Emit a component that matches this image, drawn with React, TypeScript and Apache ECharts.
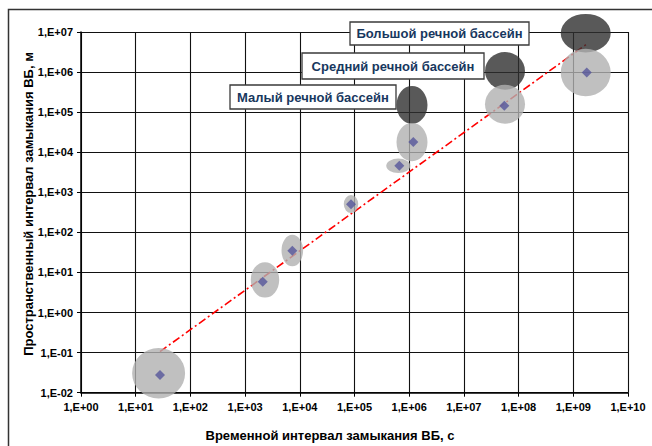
import React, { useEffect, useRef } from "react";
import * as echarts from "echarts";

// Diamond points: [time interval, s ; spatial interval, m]
const pointX = [27.8, 2100, 7290, 86300, 659000, 1.19e6, 5.48e7, 1.76e9];
const pointY = [0.0277, 5.9, 34.6, 507, 4590, 17900, 144000, 982000];

// Light (observed) ranges: [xLo, xHi, yLo, yHi]
const lightRanges: number[][] = [
  [8.6, 80, 0.0072, 0.13],
  [1270, 4200, 2.36, 18.1],
  [4630, 11500, 14.3, 86.9],
  [63700, 117000, 303, 851],
  [381000, 1.047e6, 3030, 6950],
  [586000, 2.16e6, 5940, 54000],
  [2.43e7, 1.31e8, 51400, 484000],
  [5.89e8, 4.83e9, 248000, 3.84e6],
];

// Dark (river basin) ranges: [xLo, xHi, yLo, yHi]
const darkRanges: number[][] = [
  [586000, 2.16e6, 50800, 452000],
  [2.43e7, 1.31e8, 363000, 3.15e6],
  [5.89e8, 4.83e9, 3.1e6, 2.83e7],
];

// Trend line endpoints
const trendX = [27.8, 1.76e9];
const trendY = [0.106, 5.0e6];

const basinLabels = ["Малый речной бассейн", "Средний речной бассейн", "Большой речной бассейн"];
const xTitle = "Временной интервал замыкания ВБ, с";
const yTitle = "Пространственный интервал замыкания ВБ, м";

const FONT = 'Arial, "Liberation Sans", sans-serif';

function fmt(v: number): string {
  const e = Math.round(Math.log10(v));
  const s = e < 0 ? "-" : "+";
  const a = Math.abs(e);
  return "1,E" + s + (a < 10 ? "0" + a : String(a));
}

function ellipseItem(fill: string, opacity: number) {
  return (params: any, api: any) => {
    const p1 = api.coord([api.value(0), api.value(2)]);
    const p2 = api.coord([api.value(1), api.value(3)]);
    const cx = (p1[0] + p2[0]) / 2;
    const cy = (p1[1] + p2[1]) / 2;
    const rx = Math.abs(p2[0] - p1[0]) / 2;
    const ry = Math.abs(p2[1] - p1[1]) / 2;
    const d = `M ${cx - rx} ${cy} A ${rx} ${ry} 0 1 0 ${cx + rx} ${cy} A ${rx} ${ry} 0 1 0 ${cx - rx} ${cy} Z`;
    return {
      type: "path",
      shape: { pathData: d },
      style: { fill, opacity },
    };
  };
}

function labelBox(text: string, x: number, y: number, w: number, h: number) {
  return [
    {
      type: "rect",
      z: 100,
      shape: { x, y, width: w, height: h },
      style: { fill: "#ffffff", stroke: "#3a3a3a", lineWidth: 1.3 },
    },
    {
      type: "text",
      z: 101,
      x: x + w / 2,
      y: y + h / 2,
      style: {
        text,
        fill: "#17375e",
        font: `bold 13px ${FONT}`,
        textAlign: "center",
        textVerticalAlign: "middle",
      },
    },
  ];
}

export default function App() {
  const ref = useRef<HTMLDivElement>(null);
  useEffect(() => {
    document.body.style.margin = "0";
    const chart = echarts.init(ref.current!, null, { renderer: "svg" });
    const axisLabel = {
      formatter: (v: number) => fmt(v),
      fontSize: 11,
      fontWeight: "bold" as const,
      color: "#000",
      fontFamily: FONT,
    };
    chart.setOption({
      animation: false,
      backgroundColor: "#ffffff",
      grid: { left: 81, right: 24, top: 32, bottom: 53.3, containLabel: false },
      xAxis: {
        type: "log",
        logBase: 10,
        min: 1,
        max: 1e10,
        interval: 1,
        axisLine: { show: true, lineStyle: { color: "#000", width: 1.5 } },
        axisTick: { show: true, length: 4, lineStyle: { color: "#000" } },
        axisLabel: { ...axisLabel, margin: 9 },
        splitLine: { show: true, lineStyle: { color: "#111", width: 1.1 } },
      },
      yAxis: {
        type: "log",
        logBase: 10,
        min: 0.01,
        max: 1e7,
        interval: 1,
        axisLine: { show: true, lineStyle: { color: "#000", width: 1.5 } },
        axisTick: { show: true, length: 4, lineStyle: { color: "#000" } },
        axisLabel: { ...axisLabel, margin: 8 },
        splitLine: { show: true, lineStyle: { color: "#111", width: 1.1 } },
      },
      series: [
        {
          type: "line",
          data: trendX.map((x, i) => [x, trendY[i]]),
          symbol: "none",
          z: 2,
          lineStyle: { color: "#ff0000", width: 1.6, type: [8, 3, 2, 3] },
        },
        {
          type: "custom",
          data: darkRanges,
          encode: { x: [0, 1], y: [2, 3] },
          renderItem: ellipseItem("#2f2f2f", 0.8),
          z: 3,
          clip: false,
        },
        {
          type: "custom",
          data: lightRanges,
          encode: { x: [0, 1], y: [2, 3] },
          renderItem: ellipseItem("#b0b0b0", 0.8),
          z: 4,
          clip: false,
        },
        {
          type: "scatter",
          data: pointX.map((x, i) => [x, pointY[i]]),
          symbol: "diamond",
          symbolSize: 10,
          z: 5,
          itemStyle: { color: "#55559a" },
        },
      ],
      graphic: [
        {
          type: "rect",
          shape: { x: 8.5, y: 9.5, width: 700, height: 500 },
          style: { fill: "none", stroke: "#333333", lineWidth: 1.5 },
          z: 0,
        },
        ...labelBox(basinLabels[0], 230, 85, 166, 24),
        ...labelBox(basinLabels[1], 302, 53, 182, 26),
        ...labelBox(basinLabels[2], 350, 22, 179, 23),
        {
          type: "text",
          x: 330,
          y: 435,
          style: {
            text: xTitle,
            fill: "#000",
            font: `bold 13px ${FONT}`,
            textAlign: "center",
            textVerticalAlign: "middle",
          },
        },
        {
          type: "text",
          x: 28,
          y: 204,
          rotation: Math.PI / 2,
          style: {
            text: yTitle,
            fill: "#000",
            font: `bold 13px ${FONT}`,
            textAlign: "center",
            textVerticalAlign: "middle",
          },
        },
      ],
    });
    return () => chart.dispose();
  }, []);
  return <div ref={ref} style={{ width: 652, height: 446 }} />;
}
